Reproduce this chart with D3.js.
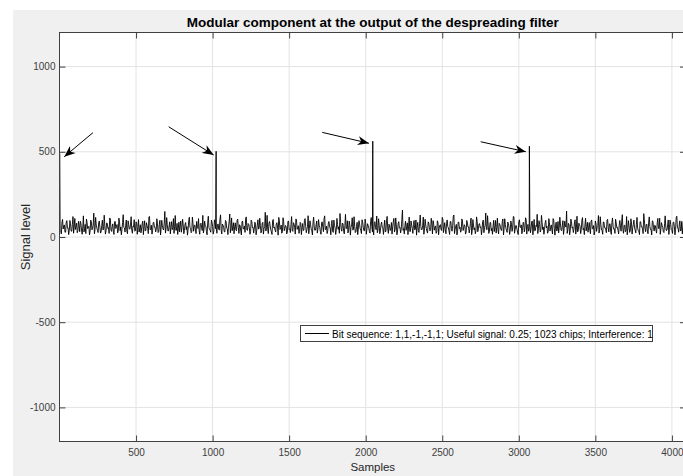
<!DOCTYPE html>
<html>
<head>
<meta charset="utf-8">
<script src="https://cdn.jsdelivr.net/npm/d3@7"></script>
<style>
  body { margin: 0; background: #fff; }
  text { font-family: "Liberation Sans Narrow", "Arial Narrow", "Liberation Sans", sans-serif; }
</style>
</head>
<body>
<div id="chart"></div>
<script>
// noise floor of the despreading filter output, samples 0, 8, 16, ...
var noise = [
  62, 38, 85, 47, 71, 29, 96, 54, 40, 78, 33, 120, 58, 44, 81, 36,
  67, 92, 41, 58, 30, 74, 105, 49, 63, 35, 88, 52, 140, 45, 70, 39,
  83, 57, 31, 99, 46, 66, 37, 79, 55, 112, 42, 61, 28, 90, 50, 73,
  36, 87, 59, 44, 131, 53, 68, 34, 95, 48, 76, 40, 64, 102, 38, 81,
  56, 29, 72, 47, 93, 60, 35, 84, 51, 118, 43, 69, 37, 86, 58, 45,
  77, 32, 98, 54, 66, 41, 150, 49, 73, 36, 89, 57, 43, 108, 62, 39,
  80, 48, 30, 94, 55, 71, 38, 85, 61, 45, 116, 52, 33, 78, 67, 42,
  91, 50, 37, 74, 59, 127, 46, 65, 31, 87, 56, 40, 99, 63, 35, 82,
  53, 70, 44, 104, 39, 76, 58, 29, 92, 48, 66, 135, 51, 37, 84, 60,
  43, 97, 55, 72, 34, 88, 47, 63, 110, 41, 79, 54, 32, 90, 58, 46,
  75, 38, 101, 52, 68, 36, 86, 49, 145, 57, 42, 81, 65, 30, 96, 53,
  40, 77, 59, 115, 44, 70, 35, 89, 51, 62, 28, 93, 48, 74, 39, 84,
  57, 106, 45, 66, 33, 80, 54, 38, 98, 61, 43, 125, 50, 72, 36, 87,
  58, 41, 94, 47, 69, 31, 83, 56, 107, 44, 64, 37, 91, 52, 78, 35,
  99, 55, 42, 73, 60, 138, 46, 82, 34, 68, 49, 95, 39, 71, 57, 113,
  45, 63, 30, 86, 53, 76, 40, 101, 58, 37, 80, 48, 67, 33, 92, 61,
  44, 78, 55, 123, 41, 69, 36, 88, 52, 64, 29, 97, 47, 75, 38, 85,
  60, 109, 43, 71, 35, 90, 56, 46, 158, 50, 66, 39, 83, 59, 32, 94,
  51, 73, 42, 100, 57, 37, 81, 62, 45, 117, 48, 70, 34, 89, 55, 43,
  76, 96, 40, 65, 31, 84, 53, 72, 38, 103, 58, 44, 79, 61, 36, 91,
  49, 67, 129, 46, 74, 33, 87, 57, 41, 95, 52, 63, 30, 82, 59, 47,
  111, 39, 70, 54, 36, 92, 48, 78, 60, 43, 99, 56, 141, 42, 68, 35,
  85, 51, 64, 32, 97, 55, 45, 80, 62, 38, 106, 50, 73, 37, 88, 58,
  41, 75, 53, 119, 44, 66, 29, 90, 57, 71, 39, 84, 49, 102, 61, 34,
  79, 47, 94, 55, 36, 68, 133, 52, 74, 40, 87, 59, 45, 98, 63, 31,
  83, 56, 42, 108, 50, 69, 35, 91, 54, 77, 38, 96, 48, 65, 152, 43,
  72, 37, 89, 58, 46, 101, 53, 30, 81, 62, 44, 114, 51, 70, 36, 86,
  57, 40, 93, 49, 67, 33, 79, 60, 126, 45, 73, 39, 88, 55, 42, 97,
  52, 76, 35, 85, 61, 47, 104, 54, 38, 71, 58, 92, 43, 68, 31, 120,
  48, 64, 37, 82, 56, 99, 41, 75, 53, 36, 90, 59, 46, 137, 50, 72,
  34, 87, 62, 44, 95, 55, 69, 39, 83, 51, 110, 47, 66, 32, 78, 57,
  41, 100, 54, 73, 38, 86, 60, 45, 122, 52, 70, 35, 91, 58, 43, 80
];
// samples 4, 12, 20, ...
var noiseOdd = [
  45, 18, 103, 66, 27, 88, 52, 14, 97, 35, 74, 22, 109, 61, 25, 92,
  31, 79, 16, 124, 48, 20, 86, 57, 12, 99, 42, 70, 19, 115, 53, 26,
  94, 23, 68, 41, 128, 17, 83, 50, 21, 106, 33, 77, 15, 91, 64, 24,
  111, 37, 13, 84, 56, 29, 100, 19, 72, 46, 119, 22, 60, 34, 89, 16,
  102, 51, 24, 79, 14, 95, 39, 67, 20, 121, 44, 17, 85, 58, 30, 107,
  26, 73, 12, 98, 47, 82, 23, 114, 36, 65, 18, 90, 54, 21, 126, 40,
  15, 87, 62, 28, 104, 19, 76, 43, 11, 96, 57, 25, 117, 34, 71, 20,
  55, 108, 16, 81, 38, 24, 93, 63, 13, 122, 45, 28, 86, 17, 101, 49,
  22, 77, 41, 130, 18, 69, 31, 97, 52, 14, 88, 25, 112, 59, 19, 83,
  36, 105, 21, 66, 12, 94, 48, 27, 118, 39, 74, 16, 99, 55, 23, 87,
  13, 70, 46, 110, 24, 81, 17, 62, 35, 127, 20, 91, 42, 15, 103, 58,
  29, 84, 11, 97, 50, 22, 113, 37, 68, 18, 92, 44, 26, 120, 33, 75,
  17, 100, 53, 21, 86, 14, 79, 40, 108, 25, 63, 19, 95, 47, 12, 116,
  38, 72, 23, 102, 56, 16, 89, 31, 124, 43, 20, 82, 60, 13, 98, 27,
  67, 15, 109, 45, 22, 85, 34, 76, 18, 133, 51, 24, 93, 11, 71, 40,
  119, 26, 61, 14, 96, 48, 20, 87, 37, 105, 16, 78, 54, 23, 114, 30,
  12, 90, 43, 25, 107, 19, 74, 58, 15, 99, 35, 121, 21, 65, 47, 17,
  88, 29, 112, 13, 80, 52, 24, 101, 39, 18, 93, 62, 14, 117, 33, 70,
  21, 97, 46, 11, 86, 27, 129, 41, 66, 16, 104, 50, 23, 82, 36, 110,
  18, 75, 57, 22, 95, 13, 69, 44, 115, 26, 84, 19, 100, 53, 15, 91,
  34, 123, 20, 63, 12, 88, 49, 28, 106, 38, 72, 17, 97, 59, 24, 81,
  14, 102, 42, 19, 118, 31, 77, 55, 13, 92, 25, 68, 46, 125, 21, 85,
  37, 16, 98, 60, 23, 111, 18, 73, 40, 89, 12, 107, 51, 27, 79, 15,
  94, 33, 120, 22, 67, 45, 14, 101, 56, 19, 86, 30, 113, 17, 74, 48,
  25, 90, 13, 103, 38, 62, 20, 96, 29, 127, 44, 16, 83, 54, 22, 108,
  35, 71, 18, 99, 11, 87, 47, 24, 116, 39, 65, 15, 93, 58, 21, 80,
  13, 105, 52, 26, 91, 17, 122, 36, 74, 20, 98, 43, 14, 110, 61, 28,
  85, 19, 100, 48, 12, 94, 33, 67, 23, 119, 41, 16, 88, 55, 25, 104,
  30, 78, 15, 112, 46, 21, 83, 57, 18, 97, 34, 131, 22, 69, 40, 13,
  96, 27, 107, 17, 73, 50, 24, 115, 38, 14, 89, 62, 20, 102, 31, 76,
  19, 118, 44, 12, 92, 35, 66, 23, 109, 49, 16, 84, 57, 26, 124, 37,
  71, 15, 99, 42, 21, 87, 13, 113, 54, 28, 95, 39, 18, 106, 47, 64
];
var noiseStep = 8;

// correlation peaks, one per bit (1023 chips)
var peakSamples = [1, 1023, 2046, 3069, 4092];
var peakValues = [490, 503, 562, 533, 520];

var xTicks = [500, 1000, 1500, 2000, 2500, 3000, 3500, 4000];
var yTicks = [-1000, -500, 0, 500, 1000];

// arrows pointing at the peaks: [sample, level]
var arrowTails = [[218, 612], [713, 647], [1716, 614], [2751, 559]];
var arrowTips = [[31, 471], [1007, 481], [2021, 550], [3046, 500]];

var titleText = "Modular component at the output of the despreading filter";
var xLabel = "Samples";
var yLabel = "Signal level";
var legendLabel = "Bit sequence: 1,1,-1,-1,1; Useful signal: 0.25; 1023 chips; Interference: 1";

var width = 683,
    height = 476,
    plotL = 59.5,
    plotR = 686,
    plotT = 32.5,
    plotB = 441.5;

var x = d3.scaleLinear().domain([0, 4092]).range([plotL, plotR]);
var y = d3.scaleLinear().domain([-1200, 1200]).range([plotB, plotT]);

// merge noise and peaks into one series
var series = [];
noise.forEach(function (v, i) {
    series.push({s: i * noiseStep, v: v});
    series.push({s: i * noiseStep + noiseStep / 2, v: noiseOdd[i]});
});
peakSamples.forEach(function (s, i) {
    series.push({s: s, v: peakValues[i]});
});
series.sort(function (a, b) { return a.s - b.s; });

var svg = d3.select("#chart").append("svg")
    .attr("width", width)
    .attr("height", height);

svg.append("rect")
    .attr("x", 13).attr("y", 10)
    .attr("width", width - 13).attr("height", height - 10)
    .attr("fill", "#f0f0f0");

svg.append("rect")
    .attr("x", plotL).attr("y", plotT)
    .attr("width", plotR - plotL).attr("height", plotB - plotT)
    .attr("fill", "#fff");

var defs = svg.append("defs");
defs.append("clipPath").attr("id", "clip")
    .append("rect")
    .attr("x", plotL).attr("y", plotT)
    .attr("width", plotR - plotL).attr("height", plotB - plotT);

defs.append("marker")
    .attr("id", "head")
    .attr("viewBox", "0 0 10 8")
    .attr("refX", 10).attr("refY", 4)
    .attr("markerWidth", 12).attr("markerHeight", 9)
    .attr("markerUnits", "userSpaceOnUse")
    .attr("orient", "auto")
    .append("path")
    .attr("d", "M0,0L10,4L0,8L3,4Z")
    .attr("fill", "#000");

// grid
var grid = svg.append("g");
grid.selectAll(".gx").data(xTicks).enter().append("line")
    .attr("x1", function (d) { return x(d); })
    .attr("x2", function (d) { return x(d); })
    .attr("y1", plotT).attr("y2", plotB)
    .attr("stroke", "#e3e3e3").attr("stroke-width", 1);
grid.selectAll(".gy").data(yTicks).enter().append("line")
    .attr("x1", plotL).attr("x2", plotR)
    .attr("y1", function (d) { return y(d); })
    .attr("y2", function (d) { return y(d); })
    .attr("stroke", "#e3e3e3").attr("stroke-width", 1);

// signal
var line = d3.line()
    .x(function (d) { return x(d.s); })
    .y(function (d) { return y(d.v); });

svg.append("path")
    .datum(series)
    .attr("clip-path", "url(#clip)")
    .attr("d", line)
    .attr("fill", "none")
    .attr("stroke", "#000")
    .attr("stroke-width", 0.9)
    .attr("stroke-linejoin", "bevel");

// axes
function styleAxis(g) {
    g.select(".domain").remove();
    g.selectAll("line").attr("stroke", "#404040");
    g.selectAll("text").attr("fill", "#404040").attr("font-size", 10)
        .attr("font-family", "'Liberation Sans Narrow', 'Arial Narrow', sans-serif");
}

var fmt = function (d) { return String(d); };

svg.append("g")
    .attr("transform", "translate(0," + plotB + ")")
    .call(d3.axisBottom(x).tickValues(xTicks).tickFormat(fmt).tickSizeInner(-6).tickSizeOuter(0).tickPadding(7))
    .call(styleAxis);
svg.append("g")
    .attr("transform", "translate(0," + plotT + ")")
    .call(d3.axisTop(x).tickValues(xTicks).tickSizeInner(-6).tickSizeOuter(0).tickFormat(""))
    .call(styleAxis);
svg.append("g")
    .attr("transform", "translate(" + plotL + ",0)")
    .call(d3.axisLeft(y).tickValues(yTicks).tickFormat(fmt).tickSizeInner(-6).tickSizeOuter(0).tickPadding(4))
    .call(styleAxis);
svg.append("g")
    .attr("transform", "translate(" + plotR + ",0)")
    .call(d3.axisRight(y).tickValues(yTicks).tickSizeInner(-6).tickSizeOuter(0).tickFormat(""))
    .call(styleAxis);

svg.append("rect")
    .attr("x", plotL).attr("y", plotT)
    .attr("width", plotR - plotL).attr("height", plotB - plotT)
    .attr("fill", "none")
    .attr("stroke", "#404040")
    .attr("stroke-width", 1);

// arrows
svg.selectAll(".arrow").data(arrowTails).enter().append("line")
    .attr("x1", function (d) { return x(d[0]); })
    .attr("y1", function (d) { return y(d[1]); })
    .attr("x2", function (d, i) { return x(arrowTips[i][0]); })
    .attr("y2", function (d, i) { return y(arrowTips[i][1]); })
    .attr("stroke", "#000")
    .attr("stroke-width", 1)
    .attr("marker-end", "url(#head)");

// legend
var lg = svg.append("g");
lg.append("rect")
    .attr("x", 300.5).attr("y", 325.5)
    .attr("width", 352).attr("height", 16)
    .attr("fill", "#fff")
    .attr("stroke", "#404040")
    .attr("stroke-width", 1);
lg.append("line")
    .attr("x1", 305).attr("x2", 329)
    .attr("y1", 333.5).attr("y2", 333.5)
    .attr("stroke", "#000").attr("stroke-width", 1);
lg.append("text")
    .attr("x", 332).attr("y", 337.5)
    .attr("font-size", 10)
    .attr("fill", "#000")
    .text(legendLabel);

// titles
svg.append("text")
    .attr("x", (plotL + plotR) / 2).attr("y", 27)
    .attr("text-anchor", "middle")
    .attr("font-size", 13.5)
    .attr("font-weight", "bold")
    .attr("fill", "#000")
    .text(titleText);

svg.append("text")
    .attr("x", (plotL + plotR) / 2).attr("y", 471)
    .attr("text-anchor", "middle")
    .attr("font-size", 11.5)
    .attr("fill", "#262626")
    .text(xLabel);

svg.append("text")
    .attr("transform", "translate(30," + y(0) + ")rotate(-90)")
    .attr("text-anchor", "middle")
    .attr("font-size", 13)
    .attr("font-family", "'Liberation Sans', Arial, sans-serif")
    .attr("fill", "#262626")
    .text(yLabel);
</script>
</body>
</html>
